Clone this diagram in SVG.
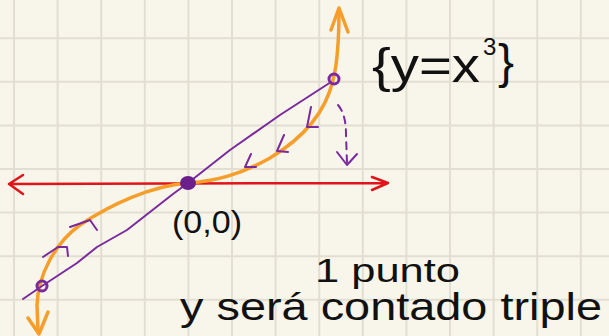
<svg xmlns="http://www.w3.org/2000/svg" width="609" height="336" viewBox="0 0 609 336">
<style>
.grid{stroke:#e2dfd2;stroke-width:2}
.orange{fill:none;stroke:#f59e2c;stroke-width:3.5;stroke-linecap:round;stroke-linejoin:round}
.red{fill:none;stroke:#e0141a;stroke-width:2.5;stroke-linecap:round;stroke-linejoin:round}
.purple{fill:none;stroke:#7a2a9c;stroke-width:2;stroke-linecap:round;stroke-linejoin:round}
.txt{font-family:"Liberation Sans","DejaVu Sans",sans-serif;fill:#111}
</style>
<rect width="609" height="336" fill="#f8f6ea"/>
<g id="grid" class="grid">
<path d="M14 0V336M57.6 0V336M101.2 0V336M144.8 0V336M188.4 0V336M232 0V336M275.6 0V336M319.2 0V336M362.8 0V336M406.4 0V336M450 0V336M493.6 0V336M537.2 0V336M580.8 0V336"/>
<path d="M0 38.2H609M0 81.8H609M0 125.4H609M0 169H609M0 212.6H609M0 256.2H609M0 299.8H609"/>
</g>
<g id="connectors">
<path class="red" d="M9 184 L388 183 M23 175 L9 184 L23 194 M372 177 L388 183 L372 190"/>
<path class="orange" d="M339 9 C339 40 337 65 333 80 C325 115 300 140 270 158 C240 175 215 181 188 183 C150 186 110 205 80 225 C55 243 38 275 37 305 L38 332"/>
<path class="orange" d="M331 30 L339 8 L348 32 M28 318 L39 334 L48 312"/>
<path class="purple" d="M331 82 L280 115 L230 150 L188 183 L173 194 L127 230 L97 247 L77 263 L42 286 L23 299"/>
<path class="purple" d="M311 107 L307 127 L318 127 M284 135 L277 151 L288 152 M251 154 L245 167 L256 167 M70 227 L90 220 L97 230 M43 257 L58 247 L67 247 L68 256"/>
<path class="purple" d="M338 105 C344 112 346 122 346 135 L347 163" stroke-dasharray="7 6"/>
<path class="purple" d="M337 152 L347 165 L357 154"/>
</g>
<g id="point-top"><circle cx="334" cy="79" r="5" fill="none" stroke="#7a2a9c" stroke-width="3"/></g>
<g id="point-bottom"><circle cx="42" cy="286" r="5" fill="none" stroke="#7a2a9c" stroke-width="3"/></g>
<g id="point-origin"><ellipse cx="188" cy="183" rx="8" ry="7" fill="#6a1f8a"/></g>
<g id="label-eq" class="txt">
<text x="372" y="82" font-size="48" textLength="108" lengthAdjust="spacingAndGlyphs">{y=x</text>
<text x="483" y="55" font-size="24">3</text>
<text x="498" y="78" font-size="48">}</text>
</g>
<g id="label-origin" class="txt"><text x="172" y="233" font-size="32" textLength="70" lengthAdjust="spacingAndGlyphs">(0,0)</text></g>
<g id="label-note" class="txt">
<text x="315" y="282" font-size="34" textLength="145" lengthAdjust="spacingAndGlyphs">1 punto</text>
<text x="180" y="320" font-size="38" textLength="422" lengthAdjust="spacingAndGlyphs">y será contado triple</text>
</g>
</svg>
